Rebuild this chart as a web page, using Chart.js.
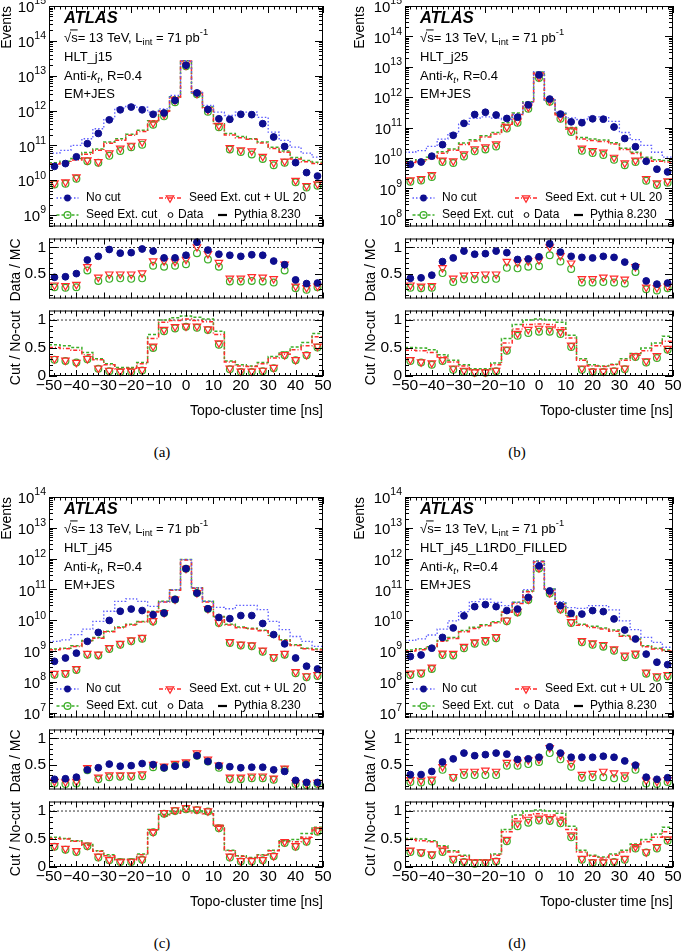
<!DOCTYPE html>
<html>
<head>
<meta charset="utf-8">
<script src="https://cdn.jsdelivr.net/npm/chart.js@4/dist/chart.umd.min.js"></script>
<style>
  body { margin: 0; background: #fff; width: 685px; height: 952px; position: relative; overflow: hidden; }
  canvas { position: absolute; }
  .cap { position: absolute; width: 40px; text-align: center; font: 15px "Liberation Serif", "Times New Roman", serif; color: #000; }
</style>
</head>
<body>
<script>
// bins of the topo-cluster time histograms (4 ns wide)
const binEdges = [-50, -46, -42, -38, -34, -30, -26, -22, -18, -14, -10, -6, -2, 2, 6, 10, 14, 18, 22, 26, 30, 34, 38, 42, 46, 50];
const binCenters = [-48, -44, -40, -36, -32, -28, -24, -20, -16, -12, -8, -4, 0, 4, 8, 12, 16, 20, 24, 28, 32, 36, 40, 44, 48];
const xTickValues = [-50, -40, -30, -20, -10, 0, 10, 20, 30, 40, 50];
const ratioTicksTop = [0.5, 1];
const ratioTicksBottom = [0, 0.5, 1];
const unityLine = [1, 1];

const triggers = ['HLT_j15', 'HLT_j25', 'HLT_j45', 'HLT_j45_L1RD0_FILLED'];
const captions = ['(a)', '(b)', '(c)', '(d)'];

// ---- (a) HLT_j15
const mcNoCutA = [6.0e10, 7.2e10, 1.0e11, 1.55e11, 3.0e11, 5.8e11, 1.17e12, 1.4e12, 1.25e12, 9.0e11, 1.12e12, 2.7e12, 2.7e13, 3.3e12, 1.4e12, 9.0e11, 7.2e11, 9.0e11, 9.0e11, 6.4e11, 2.4e11, 1.4e11, 8.9e10, 6.0e10, 4.6e10];
const mcSeedA = [3.2e10, 3.5e10, 4.2e10, 6.2e10, 7.9e10, 1.26e11, 1.55e11, 2.1e11, 2.7e11, 5.1e11, 1.0e12, 2.5e12, 2.7e13, 3.2e12, 1.26e12, 4.2e11, 2.2e11, 1.8e11, 1.55e11, 1.26e11, 8.9e10, 6.9e10, 4.5e10, 3.7e10, 3.3e10];
const mcUl20A = [2.9e10, 3.2e10, 3.8e10, 5.6e10, 7.3e10, 1.15e11, 1.4e11, 1.95e11, 2.5e11, 4.7e11, 9.6e11, 2.4e12, 2.65e13, 3.1e12, 1.2e12, 3.9e11, 2.0e11, 1.65e11, 1.5e11, 1.17e11, 8.2e10, 6.3e10, 4.1e10, 3.4e10, 3.0e10];
const dataNoCutA = [2.5e10, 3.0e10, 4.7e10, 1.12e11, 2.2e11, 5.4e11, 1.05e12, 1.26e12, 1.05e12, 7.8e11, 8.5e11, 1.95e12, 2.0e13, 3.2e12, 1.07e12, 5.8e11, 5.6e11, 7.8e11, 7.6e11, 4.2e11, 1.74e11, 9.3e10, 3.2e10, 1.66e10, 1.32e10];
const dataSeedA = [7.6e9, 7.9e9, 1.1e10, 3.5e10, 3.2e10, 5.0e10, 6.9e10, 8.9e10, 1.05e11, 3.9e11, 6.8e11, 1.74e12, 1.86e13, 2.95e12, 9.3e11, 3.3e11, 7.6e10, 6.5e10, 5.5e10, 4.1e10, 2.7e10, 3.2e10, 8.7e9, 6.2e9, 6.9e9];
const dataUl20A = [8.3e9, 8.9e9, 1.23e10, 3.8e10, 3.4e10, 6.0e10, 8.3e10, 1.0e11, 1.26e11, 4.4e11, 7.7e11, 2.0e12, 2.0e13, 3.1e12, 1.05e12, 3.7e11, 8.5e10, 7.4e10, 6.9e10, 4.8e10, 3.2e10, 3.5e10, 9.8e9, 6.9e9, 7.8e9];
const ratioNoCutA = [0.43, 0.44, 0.50, 0.76, 0.83, 0.96, 0.89, 0.90, 0.97, 0.93, 0.80, 0.80, 0.85, 1.10, 0.95, 0.87, 0.85, 0.83, 0.86, 0.85, 0.74, 0.67, 0.38, 0.31, 0.32];
const ratioUl20A = [0.28, 0.27, 0.29, 0.63, 0.43, 0.49, 0.49, 0.49, 0.51, 0.74, 0.74, 0.73, 0.77, 1.01, 0.88, 0.71, 0.41, 0.41, 0.44, 0.43, 0.40, 0.68, 0.26, 0.23, 0.26];
const ratioSeedA = [0.24, 0.23, 0.24, 0.56, 0.36, 0.40, 0.41, 0.40, 0.41, 0.65, 0.63, 0.65, 0.68, 0.89, 0.77, 0.63, 0.35, 0.35, 0.36, 0.35, 0.33, 0.56, 0.22, 0.19, 0.24];
const cutSeedDataA = [0.29, 0.27, 0.24, 0.30, 0.13, 0.085, 0.07, 0.07, 0.10, 0.50, 0.80, 0.85, 0.88, 0.86, 0.82, 0.56, 0.12, 0.07, 0.07, 0.085, 0.14, 0.37, 0.28, 0.37, 0.51];
const cutUl20DataA = [0.31, 0.28, 0.24, 0.31, 0.14, 0.10, 0.085, 0.085, 0.11, 0.53, 0.83, 0.88, 0.89, 0.89, 0.84, 0.59, 0.14, 0.085, 0.085, 0.10, 0.15, 0.38, 0.29, 0.38, 0.53];
const cutSeedMcA = [0.56, 0.54, 0.51, 0.42, 0.31, 0.22, 0.15, 0.15, 0.24, 0.74, 1.0, 1.04, 1.07, 1.05, 1.02, 0.80, 0.27, 0.20, 0.18, 0.24, 0.35, 0.43, 0.52, 0.60, 0.76];
const cutUl20McA = [0.51, 0.49, 0.46, 0.38, 0.29, 0.20, 0.13, 0.14, 0.22, 0.67, 0.96, 0.99, 1.02, 0.99, 0.97, 0.74, 0.25, 0.18, 0.17, 0.22, 0.32, 0.39, 0.47, 0.54, 0.70];

// ---- (b) HLT_j25
const mcNoCutB = [1.55e10, 1.74e10, 2.4e10, 4.2e10, 6.5e10, 1.3e11, 2.0e11, 2.25e11, 2.05e11, 1.85e11, 2.7e11, 6.8e11, 6.8e12, 8.1e11, 3.2e11, 2.1e11, 1.85e11, 2.25e11, 2.25e11, 1.6e11, 6.9e10, 4.0e10, 2.6e10, 1.55e10, 1.07e10];
const mcSeedB = [7.9e9, 8.7e9, 1.07e10, 1.6e10, 2.0e10, 3.1e10, 4.0e10, 5.4e10, 6.9e10, 1.45e11, 3.0e11, 7.1e11, 6.8e12, 8.1e11, 2.9e11, 1.0e11, 4.7e10, 4.2e10, 3.9e10, 3.2e10, 2.1e10, 1.55e10, 1.07e10, 8.7e9, 8.3e9];
const mcUl20B = [7.1e9, 7.8e9, 9.6e9, 1.43e10, 1.8e10, 2.8e10, 3.6e10, 4.9e10, 6.2e10, 1.3e11, 2.7e11, 6.4e11, 6.3e12, 7.5e11, 2.65e11, 9.0e10, 4.2e10, 3.8e10, 3.5e10, 2.9e10, 1.9e10, 1.4e10, 9.6e9, 7.8e9, 7.4e9];
const dataNoCutB = [6.2e9, 7.4e9, 1.15e10, 2.75e10, 5.6e10, 1.38e11, 2.7e11, 3.2e11, 2.6e11, 2.0e11, 2.2e11, 5.6e11, 5.4e12, 8.7e11, 2.8e11, 1.55e11, 1.45e11, 1.95e11, 1.9e11, 1.05e11, 4.4e10, 2.35e10, 7.8e9, 4.3e9, 3.5e9];
const dataSeedB = [1.66e9, 1.82e9, 2.4e9, 7.4e9, 6.8e9, 1.12e10, 1.66e10, 1.9e10, 2.4e10, 9.3e10, 1.45e11, 4.2e11, 4.3e12, 7.1e11, 1.95e11, 7.2e10, 1.74e10, 1.45e10, 1.26e10, 8.7e9, 5.8e9, 7.4e9, 1.78e9, 1.29e9, 1.55e9];
const dataUl20B = [1.9e9, 2.1e9, 2.8e9, 8.5e9, 8.0e9, 1.35e10, 2.0e10, 2.3e10, 2.9e10, 1.05e11, 1.65e11, 4.7e11, 4.6e12, 7.6e11, 2.2e11, 8.3e10, 2.1e10, 1.75e10, 1.55e10, 1.05e10, 6.8e9, 8.4e9, 2.1e9, 1.5e9, 1.75e9];
const ratioNoCutB = [0.41, 0.42, 0.47, 0.73, 0.80, 0.93, 0.87, 0.88, 0.93, 0.90, 0.77, 0.78, 0.82, 1.07, 0.91, 0.83, 0.81, 0.80, 0.83, 0.81, 0.72, 0.64, 0.36, 0.30, 0.32];
const ratioUl20B = [0.28, 0.26, 0.27, 0.61, 0.41, 0.47, 0.48, 0.49, 0.49, 0.73, 0.71, 0.74, 0.76, 1.01, 0.84, 0.70, 0.40, 0.40, 0.43, 0.41, 0.39, 0.63, 0.24, 0.23, 0.26];
const ratioSeedB = [0.23, 0.22, 0.23, 0.51, 0.34, 0.39, 0.39, 0.39, 0.40, 0.61, 0.60, 0.63, 0.64, 0.85, 0.73, 0.59, 0.33, 0.33, 0.34, 0.33, 0.31, 0.53, 0.20, 0.18, 0.22];
const cutSeedDataB = [0.27, 0.24, 0.20, 0.27, 0.11, 0.07, 0.06, 0.06, 0.085, 0.45, 0.72, 0.77, 0.79, 0.79, 0.75, 0.52, 0.11, 0.07, 0.07, 0.085, 0.12, 0.34, 0.24, 0.32, 0.47];
const cutUl20DataB = [0.29, 0.25, 0.23, 0.29, 0.14, 0.10, 0.07, 0.07, 0.10, 0.48, 0.76, 0.83, 0.85, 0.84, 0.79, 0.55, 0.14, 0.085, 0.085, 0.10, 0.14, 0.36, 0.27, 0.36, 0.49];
const cutSeedMcB = [0.51, 0.50, 0.47, 0.38, 0.28, 0.20, 0.13, 0.13, 0.23, 0.67, 0.92, 1.0, 1.02, 1.0, 0.96, 0.73, 0.31, 0.20, 0.18, 0.21, 0.31, 0.40, 0.50, 0.59, 0.71];
const cutUl20McB = [0.46, 0.45, 0.42, 0.34, 0.25, 0.18, 0.11, 0.11, 0.20, 0.59, 0.84, 0.92, 0.93, 0.92, 0.86, 0.68, 0.28, 0.18, 0.17, 0.20, 0.28, 0.37, 0.45, 0.54, 0.62];

// ---- (c) HLT_j45
const mcNoCutC = [2.05e9, 2.3e9, 3.4e9, 5.1e9, 9.1e9, 1.95e10, 4.1e10, 4.9e10, 4.1e10, 2.8e10, 3.9e10, 9.8e10, 9.3e11, 1.12e11, 4.1e10, 2.6e10, 2.35e10, 3.0e10, 3.0e10, 2.2e10, 9.1e9, 4.9e9, 2.95e9, 2.05e9, 1.41e9];
const mcSeedC = [1.15e9, 1.23e9, 1.48e9, 2.2e9, 2.75e9, 4.4e9, 6.0e9, 7.4e9, 9.1e9, 1.95e10, 4.1e10, 9.8e10, 9.3e11, 1.12e11, 4.1e10, 1.32e10, 7.4e9, 6.0e9, 5.5e9, 4.7e9, 3.2e9, 2.3e9, 1.58e9, 1.23e9, 1.15e9];
const mcUl20C = [1.1e9, 1.17e9, 1.4e9, 2.1e9, 2.6e9, 4.2e9, 5.7e9, 7.0e9, 8.7e9, 1.85e10, 3.9e10, 9.4e10, 9.0e11, 1.08e11, 3.9e10, 1.26e10, 7.0e9, 5.7e9, 5.2e9, 4.5e9, 3.0e9, 2.2e9, 1.5e9, 1.17e9, 1.1e9];
const dataNoCutC = [4.6e8, 5.9e8, 8.5e8, 2.05e9, 4.0e9, 9.8e9, 1.95e10, 2.3e10, 2.05e10, 1.5e10, 1.7e10, 4.7e10, 4.7e11, 7.6e10, 2.35e10, 1.23e10, 1.12e10, 1.41e10, 1.41e10, 7.8e9, 3.4e9, 1.7e9, 5.9e8, 3.2e8, 2.6e8];
const dataSeedC = [1.7e8, 1.78e8, 2.4e8, 7.6e8, 7.1e8, 1.15e9, 1.58e9, 2.05e9, 2.5e9, 9.1e9, 1.7e10, 4.7e10, 4.7e11, 7.6e10, 2.3e10, 8.1e9, 1.82e9, 1.51e9, 1.41e9, 9.5e8, 5.9e8, 7.6e8, 1.9e8, 1.41e8, 1.55e8];
const dataUl20C = [1.85e8, 1.95e8, 2.65e8, 8.3e8, 7.8e8, 1.27e9, 1.75e9, 2.25e9, 2.75e9, 9.5e9, 1.75e10, 4.8e10, 4.8e11, 7.7e10, 2.35e10, 8.5e9, 2.0e9, 1.65e9, 1.55e9, 1.05e9, 6.5e8, 8.3e8, 2.1e8, 1.55e8, 1.7e8];
const ratioNoCutC = [0.22, 0.23, 0.26, 0.40, 0.44, 0.51, 0.47, 0.48, 0.52, 0.50, 0.44, 0.47, 0.50, 0.67, 0.56, 0.48, 0.46, 0.44, 0.45, 0.45, 0.40, 0.37, 0.20, 0.16, 0.16];
const ratioUl20C = [0.18, 0.17, 0.18, 0.44, 0.26, 0.30, 0.30, 0.30, 0.32, 0.50, 0.47, 0.52, 0.55, 0.72, 0.60, 0.49, 0.26, 0.26, 0.28, 0.28, 0.24, 0.43, 0.16, 0.14, 0.16];
const ratioSeedC = [0.14, 0.13, 0.14, 0.39, 0.22, 0.26, 0.27, 0.27, 0.28, 0.45, 0.44, 0.48, 0.51, 0.67, 0.56, 0.44, 0.22, 0.22, 0.24, 0.24, 0.21, 0.40, 0.13, 0.11, 0.13];
const cutSeedDataC = [0.36, 0.31, 0.27, 0.37, 0.17, 0.12, 0.09, 0.09, 0.13, 0.62, 0.95, 1.0, 1.03, 1.02, 0.99, 0.69, 0.17, 0.10, 0.10, 0.12, 0.19, 0.43, 0.36, 0.45, 0.63];
const cutUl20DataC = [0.38, 0.33, 0.29, 0.39, 0.19, 0.13, 0.10, 0.10, 0.14, 0.63, 0.97, 1.02, 1.06, 1.03, 1.0, 0.71, 0.19, 0.11, 0.11, 0.13, 0.20, 0.45, 0.38, 0.47, 0.66];
const cutSeedMcC = [0.53, 0.51, 0.47, 0.40, 0.29, 0.22, 0.14, 0.14, 0.23, 0.67, 0.94, 0.99, 1.03, 1.0, 0.98, 0.74, 0.30, 0.20, 0.17, 0.22, 0.30, 0.47, 0.49, 0.60, 0.71];
const cutUl20McC = [0.51, 0.50, 0.46, 0.39, 0.28, 0.20, 0.13, 0.13, 0.22, 0.66, 0.91, 0.96, 0.99, 0.97, 0.95, 0.73, 0.29, 0.19, 0.16, 0.21, 0.29, 0.45, 0.45, 0.53, 0.66];

// ---- (d) HLT_j45_L1RD0_FILLED
const mcNoCutD = [2.2e9, 2.45e9, 3.3e9, 5.1e9, 9.5e9, 1.9e10, 4.0e10, 4.8e10, 3.8e10, 2.95e10, 3.8e10, 9.8e10, 8.3e11, 1.02e11, 4.0e10, 2.55e10, 2.4e10, 2.95e10, 2.95e10, 2.15e10, 9.5e9, 4.9e9, 2.75e9, 1.9e9, 1.32e9];
const mcSeedD = [1.07e9, 1.17e9, 1.38e9, 2.2e9, 2.75e9, 4.6e9, 5.9e9, 7.1e9, 8.9e9, 1.9e10, 3.8e10, 8.9e10, 8.3e11, 1.02e11, 3.55e10, 1.38e10, 7.4e9, 6.3e9, 5.6e9, 4.8e9, 3.2e9, 2.45e9, 1.48e9, 1.23e9, 1.07e9];
const mcUl20D = [1.0e9, 1.1e9, 1.3e9, 2.05e9, 2.55e9, 4.2e9, 5.4e9, 6.6e9, 8.3e9, 1.8e10, 3.5e10, 8.3e10, 7.9e11, 9.6e10, 3.3e10, 1.28e10, 6.8e9, 5.8e9, 5.2e9, 4.4e9, 3.0e9, 2.3e9, 1.38e9, 1.15e9, 1.0e9];
const dataNoCutD = [6.6e8, 7.4e8, 1.23e9, 2.75e9, 5.6e9, 1.38e10, 2.75e10, 3.2e10, 2.75e10, 2.05e10, 2.3e10, 5.5e10, 5.8e11, 8.9e10, 2.95e10, 1.66e10, 1.58e10, 2.05e10, 1.9e10, 1.1e10, 4.8e9, 2.45e9, 7.9e8, 4.3e8, 3.6e8];
const dataSeedD = [1.66e8, 1.82e8, 2.6e8, 7.4e8, 7.1e8, 1.23e9, 1.7e9, 2.0e9, 2.6e9, 9.3e9, 1.78e10, 4.5e10, 4.8e11, 7.4e10, 2.2e10, 8.1e9, 1.9e9, 1.58e9, 1.38e9, 1.02e9, 6.3e8, 7.4e8, 1.82e8, 1.35e8, 1.51e8];
const dataUl20D = [1.9e8, 2.05e8, 2.95e8, 8.4e8, 8.2e8, 1.4e9, 1.95e9, 2.3e9, 2.9e9, 1.0e10, 1.9e10, 4.8e10, 5.0e11, 7.8e10, 2.35e10, 8.8e9, 2.15e9, 1.8e9, 1.6e9, 1.15e9, 7.2e8, 8.4e8, 2.05e8, 1.55e8, 1.7e8];
const ratioNoCutD = [0.31, 0.31, 0.37, 0.55, 0.61, 0.72, 0.67, 0.69, 0.72, 0.70, 0.60, 0.61, 0.64, 0.84, 0.72, 0.64, 0.64, 0.64, 0.66, 0.64, 0.57, 0.49, 0.26, 0.22, 0.25];
const ratioUl20D = [0.21, 0.20, 0.22, 0.46, 0.27, 0.37, 0.37, 0.39, 0.37, 0.54, 0.54, 0.59, 0.60, 0.82, 0.68, 0.53, 0.31, 0.33, 0.37, 0.34, 0.30, 0.47, 0.20, 0.18, 0.21];
const ratioSeedD = [0.17, 0.16, 0.18, 0.40, 0.25, 0.30, 0.30, 0.30, 0.30, 0.48, 0.48, 0.51, 0.55, 0.72, 0.60, 0.46, 0.25, 0.26, 0.26, 0.24, 0.24, 0.40, 0.14, 0.13, 0.17];
const cutSeedDataD = [0.27, 0.25, 0.21, 0.27, 0.13, 0.09, 0.06, 0.07, 0.10, 0.46, 0.73, 0.79, 0.83, 0.82, 0.78, 0.53, 0.13, 0.07, 0.07, 0.09, 0.13, 0.33, 0.26, 0.33, 0.47];
const cutUl20DataD = [0.30, 0.27, 0.23, 0.30, 0.15, 0.10, 0.09, 0.09, 0.11, 0.49, 0.78, 0.85, 0.87, 0.86, 0.82, 0.57, 0.15, 0.09, 0.09, 0.10, 0.15, 0.36, 0.27, 0.36, 0.50];
const cutSeedMcD = [0.51, 0.50, 0.47, 0.38, 0.29, 0.21, 0.13, 0.13, 0.23, 0.67, 0.93, 1.0, 1.02, 1.0, 0.96, 0.73, 0.30, 0.21, 0.18, 0.23, 0.30, 0.41, 0.49, 0.59, 0.71];
const cutUl20McD = [0.49, 0.47, 0.45, 0.36, 0.27, 0.19, 0.12, 0.12, 0.21, 0.63, 0.86, 0.93, 0.95, 0.93, 0.89, 0.67, 0.27, 0.19, 0.16, 0.21, 0.27, 0.36, 0.45, 0.53, 0.63];

const fontFamily = '"Liberation Sans", Arial, Helvetica, sans-serif';
const navy = '#0e0e8e';
const blueLine = '#5b5bff';
const green = '#3cae28';
const red = '#ff2b2b';

// where each of the four panels sits on the page
const panels = [
  { x0: 0,   y0: 0,   w: 340, axisW: 49, padR: 17, logMin: 4.7e8, logMax: 1e15, titlePad: 0,  ratioTitlePad: 9,  capX: 142, capY: 444 },
  { x0: 340, y0: 0,   w: 345, axisW: 65, padR: 12, logMin: 5.6e7, logMax: 1e15, titlePad: 13, ratioTitlePad: 24, capX: 497, capY: 444 },
  { x0: 0,   y0: 491, w: 340, axisW: 49, padR: 17, logMin: 6.9e6, logMax: 1e14, titlePad: 0,  ratioTitlePad: 9,  capX: 142, capY: 935 },
  { x0: 340, y0: 491, w: 345, axisW: 65, padR: 12, logMin: 6.9e6, logMax: 1e14, titlePad: 13, ratioTitlePad: 24, capX: 497, capY: 935 }
];
const panelData = [
  [mcNoCutA, mcSeedA, mcUl20A, dataNoCutA, dataSeedA, dataUl20A, ratioNoCutA, ratioSeedA, ratioUl20A, cutSeedDataA, cutUl20DataA, cutSeedMcA, cutUl20McA],
  [mcNoCutB, mcSeedB, mcUl20B, dataNoCutB, dataSeedB, dataUl20B, ratioNoCutB, ratioSeedB, ratioUl20B, cutSeedDataB, cutUl20DataB, cutSeedMcB, cutUl20McB],
  [mcNoCutC, mcSeedC, mcUl20C, dataNoCutC, dataSeedC, dataUl20C, ratioNoCutC, ratioSeedC, ratioUl20C, cutSeedDataC, cutUl20DataC, cutSeedMcC, cutUl20McC],
  [mcNoCutD, mcSeedD, mcUl20D, dataNoCutD, dataSeedD, dataUl20D, ratioNoCutD, ratioSeedD, ratioUl20D, cutSeedDataD, cutUl20DataD, cutSeedMcD, cutUl20McD]
];

const styleNoCut = { color: navy, fill: navy, shape: 'circle', r: 3.4, bw: 1 };
const styleSeed = { color: green, fill: 'rgba(0,0,0,0)', shape: 'circle', r: 3.4, bw: 1.2 };
const styleUl20 = { color: red, fill: 'rgba(0,0,0,0)', shape: 'triangle', rot: 180, r: 4.3, bw: 1.2 };

function histSet(values, color, dash, width) {
  return {
    data: binEdges.map((x, i) => ({ x: x, y: values[Math.min(i, values.length - 1)] })),
    borderColor: color, borderDash: dash, borderWidth: width,
    stepped: true, pointRadius: 0, fill: false, order: 2
  };
}

function markerSet(values, st) {
  return {
    data: binCenters.map((x, i) => ({ x: x, y: values[i] })),
    showLine: false, pointStyle: st.shape, pointRotation: st.rot || 0,
    pointRadius: st.r, pointBorderWidth: st.bw, pointBorderColor: st.color,
    pointBackgroundColor: st.fill, clip: false, order: 1
  };
}

function unitySet() {
  return {
    data: [{ x: -50, y: unityLine[0] }, { x: 50, y: unityLine[1] }],
    borderColor: '#000', borderDash: [2, 2], borderWidth: 0.8, pointRadius: 0, order: 3
  };
}

function drawRich(ctx, x, y, parts, size) {
  for (const p of parts) {
    const small = p.sub || p.sup;
    const s = small ? size * 0.72 : size;
    ctx.font = (p.italic ? 'italic ' : '') + s + 'px ' + fontFamily;
    const dy = p.sub ? size * 0.32 : (p.sup ? -size * 0.4 : 0);
    ctx.fillText(p.t, x, y + dy);
    const w = ctx.measureText(p.t).width;
    if (p.over) {
      ctx.beginPath();
      ctx.lineWidth = 1;
      ctx.moveTo(x - 1, y - size * 0.62);
      ctx.lineTo(x + w, y - size * 0.62);
      ctx.stroke();
    }
    x += w;
  }
}

function drawMarker(ctx, kind, x, y) {
  ctx.save();
  ctx.setLineDash([]);
  ctx.beginPath();
  if (kind === 'noCut') {
    ctx.fillStyle = navy;
    ctx.arc(x, y, 3.4, 0, Math.PI * 2);
    ctx.fill();
  } else if (kind === 'seed') {
    ctx.strokeStyle = green; ctx.lineWidth = 1.2;
    ctx.arc(x, y, 3.4, 0, Math.PI * 2);
    ctx.stroke();
  } else if (kind === 'ul20') {
    ctx.strokeStyle = red; ctx.lineWidth = 1.2;
    const r = 4.3;
    ctx.moveTo(x, y + r);
    ctx.lineTo(x - r * 0.866, y - r * 0.5);
    ctx.lineTo(x + r * 0.866, y - r * 0.5);
    ctx.closePath();
    ctx.stroke();
  } else if (kind === 'data') {
    ctx.strokeStyle = '#000'; ctx.lineWidth = 1;
    ctx.arc(x, y, 2.4, 0, Math.PI * 2);
    ctx.stroke();
  }
  ctx.restore();
}

// ROOT-like frame: box, inward ticks on all sides, 10^n labels on log axes
const rootFrame = {
  id: 'rootFrame',
  afterDatasetsDraw(chart, args, opts) {
    const { ctx, chartArea: a, scales } = chart;
    const xs = scales.x, ys = scales.y;
    ctx.save();
    ctx.strokeStyle = '#000';
    ctx.lineWidth = 1;
    ctx.setLineDash([]);
    ctx.strokeRect(a.left + 0.5, a.top + 0.5, a.right - a.left - 1, a.bottom - a.top - 1);
    ctx.beginPath();
    for (let v = -50; v <= 50; v += 2) {
      const px = Math.round(xs.getPixelForValue(v)) + 0.5;
      const len = v % 10 === 0 ? opts.xMajor : opts.xMinor;
      ctx.moveTo(px, a.bottom); ctx.lineTo(px, a.bottom - len);
      ctx.moveTo(px, a.top); ctx.lineTo(px, a.top + len);
    }
    const yTick = (val, len) => {
      const py = Math.round(ys.getPixelForValue(val)) + 0.5;
      ctx.moveTo(a.left, py); ctx.lineTo(a.left + len, py);
      ctx.moveTo(a.right, py); ctx.lineTo(a.right - len, py);
    };
    if (opts.log) {
      const lo = Math.floor(Math.log10(ys.min));
      const hi = Math.ceil(Math.log10(ys.max));
      for (let n = lo; n <= hi; n++) {
        for (let m = 1; m <= 9; m++) {
          const val = m * Math.pow(10, n);
          if (val < ys.min * 0.999 || val > ys.max * 1.001) continue;
          yTick(val, m === 1 ? 8 : 4);
        }
      }
    } else {
      for (let k = 0; k <= 20; k++) {
        const val = k / 10;
        if (val < ys.min - 1e-9 || val > ys.max + 1e-9) continue;
        yTick(val, k % 5 === 0 ? 8 : 4);
      }
    }
    ctx.stroke();

    if (opts.log) {
      ctx.fillStyle = '#000';
      ctx.textBaseline = 'middle';
      const lo = Math.ceil(Math.log10(ys.min) - 1e-9);
      const hi = Math.floor(Math.log10(ys.max) + 1e-9);
      const xr = a.left - 3;
      for (let n = lo; n <= hi; n++) {
        const py = ys.getPixelForValue(Math.pow(10, n));
        ctx.font = '10.5px ' + fontFamily;
        const ew = ctx.measureText(String(n)).width;
        ctx.textAlign = 'left';
        ctx.fillText(String(n), xr - ew, py - 4.5);
        ctx.font = '15px ' + fontFamily;
        ctx.textAlign = 'right';
        ctx.fillText('10', xr - ew, py + 2);
      }
    }
    ctx.restore();
  }
};

// ATLAS label block and the two-row legend of the upper pad
const atlasText = {
  id: 'atlasText',
  afterDraw(chart, args, opts) {
    if (!opts || !opts.trigger) return;
    const { ctx, chartArea: a } = chart;
    const x = a.left + 15;
    ctx.save();
    ctx.fillStyle = '#000';
    ctx.strokeStyle = '#000';
    ctx.textAlign = 'left';
    ctx.textBaseline = 'middle';
    ctx.font = 'bold italic 16.5px ' + fontFamily;
    ctx.fillText('ATLAS', x, a.top + 12);
    drawRich(ctx, x, a.top + 32, [
      { t: '\u221A' }, { t: 's', over: true }, { t: '= 13 TeV, L' }, { t: 'int', sub: true },
      { t: ' = 71 pb' }, { t: '-1', sup: true }
    ], 13);
    drawRich(ctx, x, a.top + 51, [{ t: opts.trigger }], 13);
    drawRich(ctx, x, a.top + 70, [{ t: 'Anti-' }, { t: 'k', italic: true }, { t: 't', italic: true, sub: true }, { t: ', R=0.4' }], 13);
    drawRich(ctx, x, a.top + 88, [{ t: 'EM+JES' }], 13);

    const l = a.left;
    const row1 = a.bottom - 28.5;
    const row2 = a.bottom - 11.5;
    const sample = (x1, y, color, dash, width, kind) => {
      ctx.save();
      ctx.strokeStyle = color; ctx.lineWidth = width; ctx.setLineDash(dash);
      ctx.beginPath(); ctx.moveTo(x1, y); ctx.lineTo(x1 + 22, y); ctx.stroke();
      ctx.restore();
      drawMarker(ctx, kind, x1 + 11, y);
    };
    sample(l + 7.5, row1, blueLine, [1.5, 2], 1.3, 'noCut');
    sample(l + 7.5, row2, green, [3, 2], 1.5, 'seed');
    sample(l + 110, row1, red, [4, 2, 1, 2], 1.5, 'ul20');
    drawMarker(ctx, 'data', l + 121.5, row2);
    ctx.save();
    ctx.lineWidth = 2.2;
    ctx.beginPath(); ctx.moveTo(l + 169, row2); ctx.lineTo(l + 178, row2); ctx.stroke();
    ctx.restore();
    ctx.font = '12px ' + fontFamily;
    ctx.fillText('No cut', l + 37, row1);
    ctx.fillText('Seed Ext. cut', l + 37, row2);
    ctx.fillText('Seed Ext. cut + UL 20', l + 140, row1);
    ctx.fillText('Data', l + 129, row2);
    ctx.fillText('Pythia 8.230', l + 185, row2);
    ctx.restore();
  }
};

function makeCanvas(left, top, width, height) {
  const c = document.createElement('canvas');
  c.width = width;
  c.height = height;
  c.style.left = left + 'px';
  c.style.top = top + 'px';
  document.body.appendChild(c);
  return c;
}

function hiddenX() {
  return { type: 'linear', min: -50, max: 50, display: false };
}

function ratioY(min, max, ticks, title, titlePad, axisW) {
  return {
    type: 'linear', min: min, max: max,
    grid: { display: false, drawTicks: false }, border: { display: false },
    afterBuildTicks: s => { s.ticks = ticks.map(v => ({ value: v })); },
    afterFit: s => { s.width = axisW; s.paddingTop = 0; s.paddingBottom = 0; },
    ticks: { padding: 3, color: '#000', font: { size: 15.5, family: fontFamily }, callback: v => String(v) },
    title: { display: true, text: title, align: 'end', color: '#000', font: { size: 14, family: fontFamily, lineHeight: 1 }, padding: { top: titlePad, bottom: 0 } }
  };
}

function baseOptions(scales, pad, frameOpts, textOpts) {
  return {
    responsive: false, animation: false, events: [],
    layout: { padding: pad },
    scales: scales,
    plugins: { legend: { display: false }, tooltip: { enabled: false }, rootFrame: frameOpts, atlasText: textOpts }
  };
}

panels.forEach((p, k) => {
  const [mcNoCut, mcSeed, mcUl20, dataNoCut, dataSeed, dataUl20, ratioNoCut, ratioSeed, ratioUl20, cutSeedData, cutUl20Data, cutSeedMc, cutUl20Mc] = panelData[k];

  // upper pad: event counts
  new Chart(makeCanvas(p.x0, p.y0 - 10, p.w, 242), {
    type: 'line',
    data: {
      datasets: [
        markerSet(dataNoCut, styleNoCut),
        markerSet(dataUl20, styleUl20),
        markerSet(dataSeed, styleSeed),
        histSet(mcNoCut, blueLine, [1.5, 2], 1.3),
        histSet(mcUl20, red, [4, 2, 1, 2], 1.5),
        histSet(mcSeed, green, [3, 2], 1.5)
      ]
    },
    options: baseOptions({
      x: hiddenX(),
      y: {
        type: 'logarithmic', min: p.logMin, max: p.logMax,
        grid: { display: false, drawTicks: false }, border: { display: false },
        ticks: { display: false },
        afterFit: s => { s.width = p.axisW; s.paddingTop = 0; s.paddingBottom = 0; },
        title: { display: true, text: 'Events', align: 'end', color: '#000', font: { size: 14, family: fontFamily, lineHeight: 1 }, padding: { top: p.titlePad, bottom: 0 } }
      }
    }, { left: 0, right: p.padR, top: 16, bottom: 2 }, { log: true, xMajor: 7, xMinor: 3.5 }, { trigger: triggers[k] }),
    plugins: [rootFrame, atlasText]
  });

  // middle pad: data / MC
  new Chart(makeCanvas(p.x0, p.y0 + 233, p.w, 71), {
    type: 'line',
    data: {
      datasets: [
        markerSet(ratioNoCut, styleNoCut),
        markerSet(ratioUl20, styleUl20),
        markerSet(ratioSeed, styleSeed),
        unitySet()
      ]
    },
    options: baseOptions({
      x: hiddenX(),
      y: ratioY(0.025, 1.17, ratioTicksTop, 'Data / MC', p.ratioTitlePad, p.axisW)
    }, { left: 0, right: p.padR, top: 2, bottom: 2 }, { log: false, xMajor: 6, xMinor: 3 }, {}),
    plugins: [rootFrame]
  });

  // lower pad: cut / no-cut
  new Chart(makeCanvas(p.x0, p.y0 + 305, p.w, 115), {
    type: 'line',
    data: {
      datasets: [
        markerSet(cutUl20Data, styleUl20),
        markerSet(cutSeedData, styleSeed),
        histSet(cutUl20Mc, red, [4, 2, 1, 2], 1.5),
        histSet(cutSeedMc, green, [3, 2], 1.5),
        unitySet()
      ]
    },
    options: baseOptions({
      x: {
        type: 'linear', min: -50, max: 50,
        grid: { display: false, drawTicks: false }, border: { display: false },
        afterBuildTicks: s => { s.ticks = xTickValues.map(v => ({ value: v })); },
        afterFit: s => { s.height = 44; s.paddingLeft = 0; s.paddingRight = 0; },
        ticks: {
          padding: 0, autoSkip: false, maxRotation: 0, color: '#000',
          font: { size: 15.5, family: fontFamily },
          callback: v => (v < 0 ? '\u2212' + Math.abs(v) : String(v))
        },
        title: { display: true, text: 'Topo-cluster time [ns]', align: 'end', color: '#000', font: { size: 14, family: fontFamily, lineHeight: 1 }, padding: { top: 0, bottom: 2 } }
      },
      y: ratioY(0, 1.17, ratioTicksBottom, 'Cut / No-cut', p.ratioTitlePad, p.axisW)
    }, { left: 0, right: p.padR, top: 2, bottom: 0 }, { log: false, xMajor: 6, xMinor: 3 }, {}),
    plugins: [rootFrame]
  });

  const cap = document.createElement('div');
  cap.className = 'cap';
  cap.style.left = p.capX + 'px';
  cap.style.top = p.capY + 'px';
  cap.textContent = captions[k];
  document.body.appendChild(cap);
});
</script>
</body>
</html>
